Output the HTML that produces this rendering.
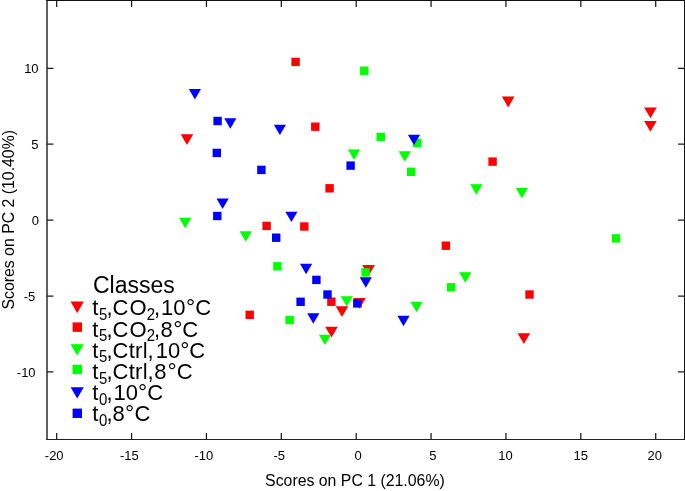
<!DOCTYPE html>
<html><head><meta charset="utf-8"><style>
html,body{margin:0;padding:0;background:#fff;}
body{width:685px;height:491px;overflow:hidden;}
svg{display:block;will-change:transform;}
text{font-family:"Liberation Sans",sans-serif;fill:#000;}
</style></head><body>
<svg width="685" height="491" viewBox="0 0 685 491">
<rect width="685" height="491" fill="#fff"/>
<g fill="none">
<path d="M47.0 0V440" stroke="#000" stroke-width="1.25"/>
<path d="M46.4 0.5H685M684.5 0V440" stroke="#111" stroke-width="1"/>
<path d="M46.4 439.5H685" stroke="#222" stroke-width="1.1"/>
</g>
<g fill="none" stroke="#1a1a1a" stroke-width="1.25">
<path d="M56.70 439.5V432.9M56.70 0.5V6.9"/>
<path d="M131.57 439.5V432.9M131.57 0.5V6.9"/>
<path d="M206.45 439.5V432.9M206.45 0.5V6.9"/>
<path d="M281.32 439.5V432.9M281.32 0.5V6.9"/>
<path d="M356.20 439.5V432.9M356.20 0.5V6.9"/>
<path d="M431.07 439.5V432.9M431.07 0.5V6.9"/>
<path d="M505.95 439.5V432.9M505.95 0.5V6.9"/>
<path d="M580.83 439.5V432.9M580.83 0.5V6.9"/>
<path d="M655.70 439.5V432.9M655.70 0.5V6.9"/>
<path d="M47.0 371.90H53.4M684.5 371.90H678.1"/>
<path d="M47.0 296.00H53.4M684.5 296.00H678.1"/>
<path d="M47.0 220.10H53.4M684.5 220.10H678.1"/>
<path d="M47.0 144.20H53.4M684.5 144.20H678.1"/>
<path d="M47.0 68.30H53.4M684.5 68.30H678.1"/>
</g>
<g font-size="13">
<text x="54.2" y="459.6" text-anchor="middle">-20</text>
<text x="129.4" y="459.6" text-anchor="middle">-15</text>
<text x="203.9" y="459.6" text-anchor="middle">-10</text>
<text x="279.2" y="459.6" text-anchor="middle">-5</text>
<text x="358.1" y="459.6" text-anchor="middle">0</text>
<text x="432.9" y="459.6" text-anchor="middle">5</text>
<text x="505.5" y="459.6" text-anchor="middle">10</text>
<text x="580.8" y="459.6" text-anchor="middle">15</text>
<text x="654.8" y="459.6" text-anchor="middle">20</text>
<text x="38.6" y="72.90" text-anchor="end">10</text>
<text x="38.6" y="148.80" text-anchor="end">5</text>
<text x="38.9" y="224.60" text-anchor="end">0</text>
<text x="35.2" y="300.50" text-anchor="end">-5</text>
<text x="35.6" y="376.70" text-anchor="end">-10</text>
</g>
<text x="265.1" y="486" font-size="15.85">Scores on PC 1 (21.06%)</text>
<text transform="translate(14.0 309.6) rotate(-90)" font-size="15.85">Scores on PC 2 (10.40%)</text>
<text x="92.95" y="292.5" font-size="23">Classes</text>
<path d="M70.60 301.55H83.80L77.20 313.35Z" fill="#ff0000"/>
<text x="92.37" y="0" font-size="22" transform="matrix(1 0 0 1.03 0 315.40)">t</text>
<text x="99.00" y="0" font-size="15" transform="matrix(1 0 0 1.1 0 319.90)">5</text>
<text x="106.52" y="0" font-size="22" transform="matrix(1 0 0 1.03 0 315.40)">,</text>
<text x="112.48" y="0" font-size="22" transform="matrix(1 0 0 1.03 0 315.40)">C</text>
<text x="129.57" y="0" font-size="22" transform="matrix(1 0 0 1.03 0 315.40)">O</text>
<text x="146.75" y="0" font-size="15" transform="matrix(1 0 0 1.1 0 319.90)">2</text>
<text x="153.92" y="0" font-size="22" transform="matrix(1 0 0 1.03 0 315.40)">,</text>
<text x="161.07" y="0" font-size="22" transform="matrix(1 0 0 1.03 0 315.40)">10</text>
<text x="185.97" y="0" font-size="23" transform="matrix(1 0 0 1.0 0 315.40)">°</text>
<text x="195.18" y="0" font-size="22" transform="matrix(1 0 0 1.03 0 315.40)">C</text>
<rect x="72.60" y="322.40" width="9.4" height="9.4" fill="#ff0000"/>
<text x="92.37" y="0" font-size="22" transform="matrix(1 0 0 1.03 0 336.60)">t</text>
<text x="99.00" y="0" font-size="15" transform="matrix(1 0 0 1.1 0 341.10)">5</text>
<text x="106.52" y="0" font-size="22" transform="matrix(1 0 0 1.03 0 336.60)">,</text>
<text x="112.48" y="0" font-size="22" transform="matrix(1 0 0 1.03 0 336.60)">C</text>
<text x="129.57" y="0" font-size="22" transform="matrix(1 0 0 1.03 0 336.60)">O</text>
<text x="146.75" y="0" font-size="15" transform="matrix(1 0 0 1.1 0 341.10)">2</text>
<text x="153.92" y="0" font-size="22" transform="matrix(1 0 0 1.03 0 336.60)">,</text>
<text x="160.55" y="0" font-size="22" transform="matrix(1 0 0 1.03 0 336.60)">8</text>
<text x="173.32" y="0" font-size="23" transform="matrix(1 0 0 1.0 0 336.60)">°</text>
<text x="182.38" y="0" font-size="22" transform="matrix(1 0 0 1.03 0 336.60)">C</text>
<path d="M70.60 344.35H83.80L77.20 355.55Z" fill="#00ff00"/>
<text x="92.37" y="0" font-size="22" transform="matrix(1 0 0 1.03 0 357.80)">t</text>
<text x="99.00" y="0" font-size="15" transform="matrix(1 0 0 1.1 0 362.30)">5</text>
<text x="106.52" y="0" font-size="22" transform="matrix(1 0 0 1.03 0 357.80)">,</text>
<text x="112.48" y="0" font-size="22" transform="matrix(1 0 0 1.03 0 357.80)">C</text>
<text x="128.77" y="0" font-size="22" transform="matrix(1 0 0 1.03 0 357.80)">t</text>
<text x="135.05" y="0" font-size="22" transform="matrix(1 0 0 1.03 0 357.80)">r</text>
<text x="142.83" y="0" font-size="22" transform="matrix(1 0 0 1.03 0 357.80)">l</text>
<text x="147.42" y="0" font-size="22" transform="matrix(1 0 0 1.03 0 357.80)">,</text>
<text x="155.67" y="0" font-size="22" transform="matrix(1 0 0 1.03 0 357.80)">10</text>
<text x="180.32" y="0" font-size="23" transform="matrix(1 0 0 1.0 0 357.80)">°</text>
<text x="189.38" y="0" font-size="22" transform="matrix(1 0 0 1.03 0 357.80)">C</text>
<rect x="72.60" y="364.70" width="9.4" height="9.4" fill="#00ff00"/>
<text x="92.37" y="0" font-size="22" transform="matrix(1 0 0 1.03 0 379.00)">t</text>
<text x="99.00" y="0" font-size="15" transform="matrix(1 0 0 1.1 0 383.50)">5</text>
<text x="106.52" y="0" font-size="22" transform="matrix(1 0 0 1.03 0 379.00)">,</text>
<text x="112.48" y="0" font-size="22" transform="matrix(1 0 0 1.03 0 379.00)">C</text>
<text x="128.77" y="0" font-size="22" transform="matrix(1 0 0 1.03 0 379.00)">t</text>
<text x="135.05" y="0" font-size="22" transform="matrix(1 0 0 1.03 0 379.00)">r</text>
<text x="142.83" y="0" font-size="22" transform="matrix(1 0 0 1.03 0 379.00)">l</text>
<text x="147.42" y="0" font-size="22" transform="matrix(1 0 0 1.03 0 379.00)">,</text>
<text x="154.15" y="0" font-size="22" transform="matrix(1 0 0 1.03 0 379.00)">8</text>
<text x="167.42" y="0" font-size="23" transform="matrix(1 0 0 1.0 0 379.00)">°</text>
<text x="176.88" y="0" font-size="22" transform="matrix(1 0 0 1.03 0 379.00)">C</text>
<path d="M70.60 387.25H83.80L77.20 398.45Z" fill="#0000ff"/>
<text x="92.37" y="0" font-size="22" transform="matrix(1 0 0 1.03 0 400.20)">t</text>
<text x="99.02" y="0" font-size="15" transform="matrix(1 0 0 1.1 0 404.70)">0</text>
<text x="106.52" y="0" font-size="22" transform="matrix(1 0 0 1.03 0 400.20)">,</text>
<text x="113.47" y="0" font-size="22" transform="matrix(1 0 0 1.03 0 400.20)">10</text>
<text x="137.97" y="0" font-size="23" transform="matrix(1 0 0 1.0 0 400.20)">°</text>
<text x="147.38" y="0" font-size="22" transform="matrix(1 0 0 1.03 0 400.20)">C</text>
<rect x="72.60" y="408.60" width="9.4" height="9.4" fill="#0000ff"/>
<text x="92.37" y="0" font-size="22" transform="matrix(1 0 0 1.03 0 421.40)">t</text>
<text x="99.02" y="0" font-size="15" transform="matrix(1 0 0 1.1 0 425.90)">0</text>
<text x="106.52" y="0" font-size="22" transform="matrix(1 0 0 1.03 0 421.40)">,</text>
<text x="112.55" y="0" font-size="22" transform="matrix(1 0 0 1.03 0 421.40)">8</text>
<text x="125.12" y="0" font-size="23" transform="matrix(1 0 0 1.0 0 421.40)">°</text>
<text x="134.58" y="0" font-size="22" transform="matrix(1 0 0 1.03 0 421.40)">C</text>
<path d="M180.70 134.15H193.30L187.00 145.05Z" fill="#ff0000"/>
<path d="M501.90 96.55H514.50L508.20 107.45Z" fill="#ff0000"/>
<path d="M644.20 107.45H656.80L650.50 118.35Z" fill="#ff0000"/>
<path d="M644.10 120.95H656.70L650.40 131.85Z" fill="#ff0000"/>
<path d="M362.30 265.05H374.90L368.60 275.95Z" fill="#ff0000"/>
<path d="M335.70 306.15H348.30L342.00 317.05Z" fill="#ff0000"/>
<path d="M353.20 297.95H365.80L359.50 308.85Z" fill="#ff0000"/>
<path d="M325.20 326.65H337.80L331.50 337.55Z" fill="#ff0000"/>
<path d="M517.60 333.15H530.20L523.90 344.05Z" fill="#ff0000"/>
<rect x="291.40" y="57.70" width="8.4" height="8.4" fill="#ff0000"/>
<rect x="311.10" y="122.50" width="8.4" height="8.4" fill="#ff0000"/>
<rect x="325.40" y="184.10" width="8.4" height="8.4" fill="#ff0000"/>
<rect x="262.40" y="221.70" width="8.4" height="8.4" fill="#ff0000"/>
<rect x="300.10" y="222.30" width="8.4" height="8.4" fill="#ff0000"/>
<rect x="441.70" y="241.50" width="8.4" height="8.4" fill="#ff0000"/>
<rect x="488.40" y="157.40" width="8.4" height="8.4" fill="#ff0000"/>
<rect x="525.30" y="290.30" width="8.4" height="8.4" fill="#ff0000"/>
<rect x="327.20" y="297.50" width="8.4" height="8.4" fill="#ff0000"/>
<rect x="245.50" y="310.60" width="8.4" height="8.4" fill="#ff0000"/>
<path d="M347.90 149.55H360.10L354.00 159.95Z" fill="#00ff00"/>
<path d="M398.70 151.35H410.90L404.80 161.75Z" fill="#00ff00"/>
<path d="M470.30 184.25H482.50L476.40 194.65Z" fill="#00ff00"/>
<path d="M515.80 187.95H528.00L521.90 198.35Z" fill="#00ff00"/>
<path d="M179.10 217.85H191.30L185.20 228.25Z" fill="#00ff00"/>
<path d="M239.70 231.35H251.90L245.80 241.75Z" fill="#00ff00"/>
<path d="M459.20 272.25H471.40L465.30 282.65Z" fill="#00ff00"/>
<path d="M410.50 301.75H422.70L416.60 312.15Z" fill="#00ff00"/>
<path d="M340.70 296.15H352.90L346.80 306.55Z" fill="#00ff00"/>
<path d="M318.90 334.65H331.10L325.00 345.05Z" fill="#00ff00"/>
<rect x="360.10" y="66.50" width="8.4" height="8.4" fill="#00ff00"/>
<rect x="376.60" y="132.70" width="8.4" height="8.4" fill="#00ff00"/>
<rect x="413.10" y="138.60" width="8.4" height="8.4" fill="#00ff00"/>
<rect x="407.00" y="167.60" width="8.4" height="8.4" fill="#00ff00"/>
<rect x="611.90" y="234.20" width="8.4" height="8.4" fill="#00ff00"/>
<rect x="446.90" y="283.10" width="8.4" height="8.4" fill="#00ff00"/>
<rect x="273.20" y="262.10" width="8.4" height="8.4" fill="#00ff00"/>
<rect x="361.40" y="268.20" width="8.4" height="8.4" fill="#00ff00"/>
<rect x="285.40" y="315.80" width="8.4" height="8.4" fill="#00ff00"/>
<path d="M188.80 89.05H201.00L194.90 99.45Z" fill="#0000ff"/>
<path d="M224.20 118.35H236.40L230.30 128.75Z" fill="#0000ff"/>
<path d="M273.80 124.65H286.00L279.90 135.05Z" fill="#0000ff"/>
<path d="M407.90 134.75H420.10L414.00 145.15Z" fill="#0000ff"/>
<path d="M216.50 198.55H228.70L222.60 208.95Z" fill="#0000ff"/>
<path d="M285.30 211.65H297.50L291.40 222.05Z" fill="#0000ff"/>
<path d="M300.00 263.85H312.20L306.10 274.25Z" fill="#0000ff"/>
<path d="M359.70 277.25H371.90L365.80 287.65Z" fill="#0000ff"/>
<path d="M307.20 313.35H319.40L313.30 323.75Z" fill="#0000ff"/>
<path d="M397.40 315.85H409.60L403.50 326.25Z" fill="#0000ff"/>
<rect x="213.40" y="116.80" width="8.4" height="8.4" fill="#0000ff"/>
<rect x="212.60" y="148.70" width="8.4" height="8.4" fill="#0000ff"/>
<rect x="257.20" y="165.70" width="8.4" height="8.4" fill="#0000ff"/>
<rect x="346.40" y="161.40" width="8.4" height="8.4" fill="#0000ff"/>
<rect x="213.10" y="211.80" width="8.4" height="8.4" fill="#0000ff"/>
<rect x="272.00" y="233.50" width="8.4" height="8.4" fill="#0000ff"/>
<rect x="312.20" y="275.70" width="8.4" height="8.4" fill="#0000ff"/>
<rect x="323.30" y="290.30" width="8.4" height="8.4" fill="#0000ff"/>
<rect x="353.10" y="299.20" width="8.4" height="8.4" fill="#0000ff"/>
<rect x="296.40" y="297.60" width="8.4" height="8.4" fill="#0000ff"/>
</svg>
</body></html>
